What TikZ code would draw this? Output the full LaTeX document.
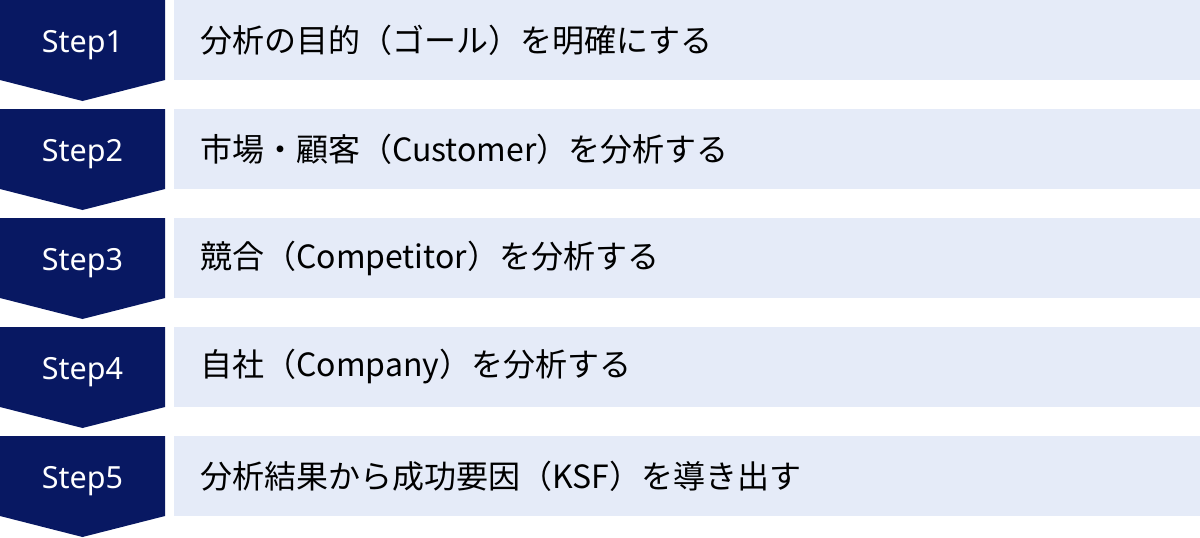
\documentclass[tikz,border=0pt]{standalone}
\usepackage{fontspec}
\setmainfont{Noto Sans CJK JP}
\newfontfamily\stepfont{Noto Sans}
\definecolor{navy}{RGB}{8,24,98}
\definecolor{pale}{RGB}{229,235,248}
\tikzset{
  stepshape/.style={fill=navy, draw=none},
  bar/.style={fill=pale, draw=none},
  steplabel/.style={text=white, font=\stepfont\fontsize{30.5}{30.5}\selectfont, inner sep=0pt, anchor=base},
  bartext/.style={text=black, font=\fontsize{32}{32}\selectfont, inner sep=0pt, anchor=west}
}
\begin{document}
\begin{tikzpicture}[x=1pt,y=-1pt]
\useasboundingbox (0,0) rectangle (1200,538);
\foreach \i/\t in {1/分析の目的（ゴール）を明確にする,
                   2/市場・顧客（Customer）を分析する,
                   3/競合（Competitor）を分析する,
                   4/自社（Company）を分析する,
                   5/分析結果から成功要因（KSF）を導き出す}{
  \pgfmathsetmacro{\top}{(\i-1)*109}
  \fill[stepshape] (0,\top) -- (165,\top) -- (165,\top+80) -- (82.5,\top+101) -- (0,\top+80) -- cycle;
  \fill[bar] (174,\top) rectangle (1200,\top+80);
  \node[steplabel] (s\i) at (82.5,\top+52.5) {Step\i};
  \node[bartext] (t\i) at (200,\top+40) {\t};
}
\end{tikzpicture}
\end{document}
